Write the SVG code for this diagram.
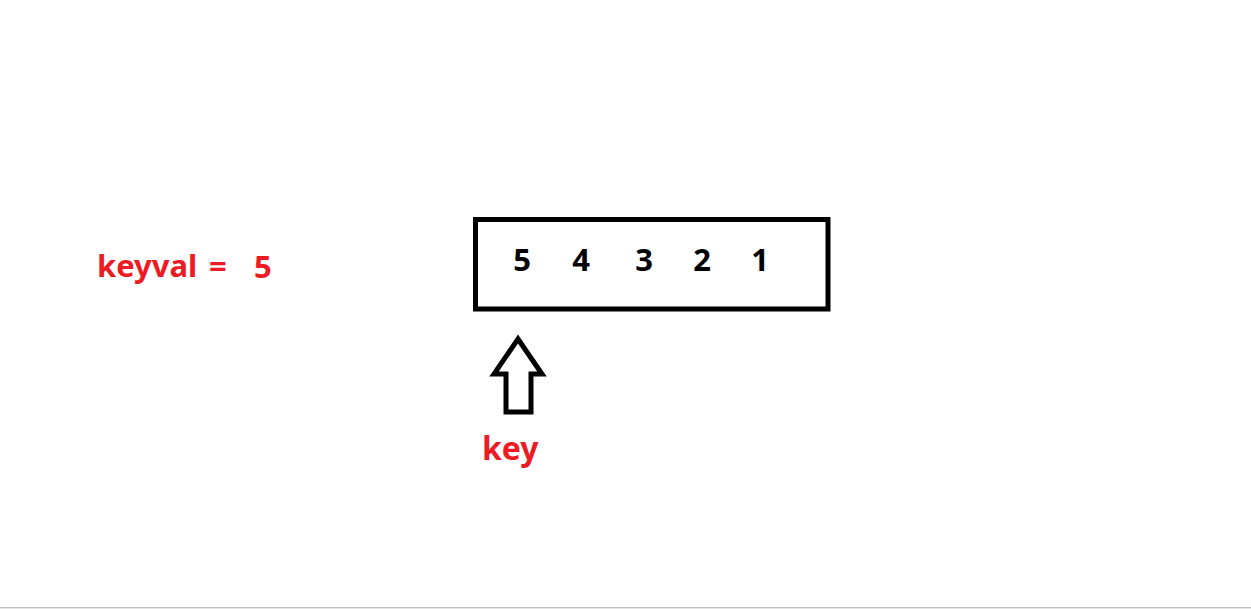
<svg xmlns="http://www.w3.org/2000/svg" width="1251" height="609" viewBox="0 0 1251 609">
<style>
.red{fill:#ED1C24;font-family:"Noto Sans","Open Sans","Liberation Sans",sans-serif;font-weight:bold}
.dig{fill:#000;font-family:"Noto Sans","Open Sans","Liberation Sans",sans-serif;font-weight:bold;font-size:31px;text-anchor:middle}
.ln{fill:none;stroke:#000;stroke-width:5;stroke-linejoin:miter}
</style>
<rect width="1251" height="609" fill="#fff"/>
<g id="keyval"><text class="red" x="97" y="277" font-size="31">keyval <tspan x="209">=</tspan></text><text class="red" x="254" y="278" font-size="31">5</text></g>
<g id="array">
<rect class="ln" x="475.5" y="219.5" width="352.5" height="89.5"/>
<text class="dig" x="522" y="271">5</text>
<text class="dig" x="581" y="271">4</text>
<text class="dig" x="644" y="271">3</text>
<text class="dig" x="702" y="271">2</text>
<text class="dig" x="760" y="271">1</text>
</g>
<g id="connectors">
<polygon class="ln" stroke-width="4" points="518,339 542,374 531,374 531,412 506,412 506,374 494,374"/>
</g>
<g id="key"><text class="red" x="482" y="460" font-size="32">key</text></g>
<rect x="0" y="607" width="1251" height="1" fill="#c3c3c3"/>
<rect x="0" y="608" width="1251" height="1" fill="#e6e6e6"/>
</svg>
